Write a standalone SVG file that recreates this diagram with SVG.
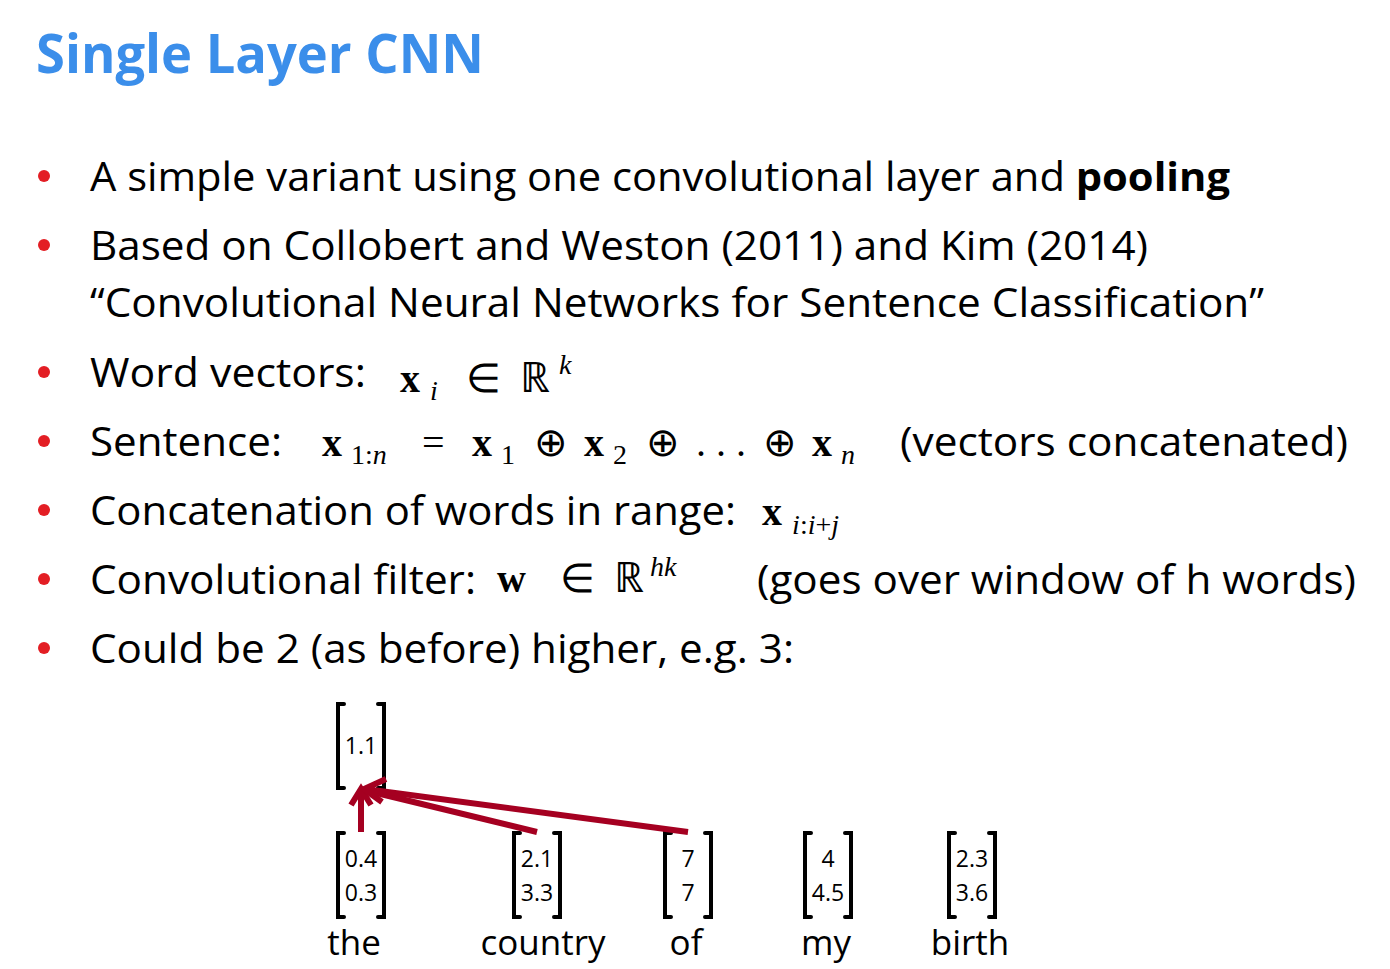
<svg xmlns="http://www.w3.org/2000/svg" width="1390" height="969" viewBox="0 0 1390 969">
<style>
.t{font-family:"Open Sans","Liberation Sans",sans-serif;font-size:40px;fill:#000}
.m{font-family:"Liberation Serif",serif;fill:#000}
.b{font-weight:bold;font-size:40px}
.i{font-style:italic}
.v{font-family:"Open Sans","Liberation Sans",sans-serif;font-size:23px;fill:#000;text-anchor:middle}
.w{font-family:"Open Sans","Liberation Sans",sans-serif;font-size:35px;fill:#000;text-anchor:middle}
.br{fill:none;stroke:#000;stroke-width:4;stroke-linecap:round}
.ar{fill:none;stroke:#a50021;stroke-width:6}
</style>
<text x="36" y="73" font-family="Open Sans,Liberation Sans,sans-serif" font-size="54" font-weight="bold" fill="#3b8eea" textLength="448" lengthAdjust="spacingAndGlyphs">Single Layer CNN</text>
<g fill="#e31e24">
<circle cx="44" cy="176" r="6"/><circle cx="44" cy="245" r="6"/><circle cx="44" cy="372" r="6"/><circle cx="44" cy="441" r="6"/><circle cx="44" cy="510" r="6"/><circle cx="44" cy="579" r="6"/><circle cx="44" cy="648" r="6"/>
</g>
<text class="t" x="90" y="191" textLength="1140" lengthAdjust="spacingAndGlyphs">A simple variant using one convolutional layer and <tspan font-weight="bold">pooling</tspan></text>
<text class="t" x="90" y="260" textLength="1058" lengthAdjust="spacingAndGlyphs">Based on Collobert and Weston (2011) and Kim (2014)</text>
<text class="t" x="90" y="317" textLength="1174" lengthAdjust="spacingAndGlyphs">“Convolutional Neural Networks for Sentence Classification”</text>
<text class="t" x="90" y="387" textLength="276" lengthAdjust="spacingAndGlyphs">Word vectors:</text>
<text class="m b" x="400" y="392">x</text><text class="m i" x="430" y="400" font-size="28">i</text>
<text class="m" x="466" y="392" font-size="40">∈</text><text class="m" x="520" y="392" font-size="42">ℝ</text><text class="m i" x="559" y="374" font-size="28">k</text>
<text class="t" x="90" y="456" textLength="192" lengthAdjust="spacingAndGlyphs">Sentence:</text>
<text class="m b" x="322" y="456">x</text><text class="m" x="351" y="464" font-size="28">1:<tspan class="i">n</tspan></text>
<text class="m" x="422" y="456" font-size="40">=</text>
<text class="m b" x="472" y="456">x</text><text class="m" x="501" y="464" font-size="28">1</text>
<text class="m" x="534" y="456" font-size="40">⊕</text>
<text class="m b" x="584" y="456">x</text><text class="m" x="613" y="464" font-size="28">2</text>
<text class="m" x="646" y="456" font-size="40">⊕</text>
<text class="m" x="696" y="456" font-size="40">. . .</text>
<text class="m" x="763" y="456" font-size="40">⊕</text>
<text class="m b" x="812" y="456">x</text><text class="m i" x="841" y="464" font-size="28">n</text>
<text class="t" x="900" y="456" textLength="448" lengthAdjust="spacingAndGlyphs">(vectors concatenated)</text>
<text class="t" x="90" y="525" textLength="646" lengthAdjust="spacingAndGlyphs">Concatenation of words in range:</text>
<text class="m b" x="762" y="525">x</text><text class="m i" x="792" y="534" font-size="28">i</text><text class="m" x="800" y="534" font-size="28">:<tspan class="i">i</tspan>+<tspan class="i">j</tspan></text>
<text class="t" x="90" y="594" textLength="386" lengthAdjust="spacingAndGlyphs">Convolutional filter:</text>
<text class="m b" x="497" y="592">w</text>
<text class="m" x="560" y="592" font-size="40">∈</text><text class="m" x="614" y="592" font-size="42">ℝ</text><text class="m i" x="650" y="576" font-size="28">hk</text>
<text class="t" x="757" y="594" textLength="599" lengthAdjust="spacingAndGlyphs">(goes over window of h words)</text>
<text class="t" x="90" y="663" textLength="704" lengthAdjust="spacingAndGlyphs">Could be 2 (as before) higher, e.g. 3:</text>
<defs>
<g id="bk"><path class="br" d="M-17,-41 h-6 v84 h6 M17,-41 h6 v84 h-6"/></g>
</defs>
<g id="n-top"><use href="#bk" x="361" y="745"/><text class="v" x="361" y="754">1.1</text></g>
<g id="n-the"><use href="#bk" x="361" y="874"/><text class="v" x="361" y="867">0.4</text><text class="v" x="361" y="901">0.3</text><text class="w" x="354" y="955">the</text></g>
<g id="n-country"><use href="#bk" x="537" y="874"/><text class="v" x="537" y="867">2.1</text><text class="v" x="537" y="901">3.3</text><text class="w" x="543" y="955">country</text></g>
<g id="n-of"><use href="#bk" x="688" y="874"/><text class="v" x="688" y="867">7</text><text class="v" x="688" y="901">7</text><text class="w" x="686" y="955">of</text></g>
<g id="n-my"><use href="#bk" x="828" y="874"/><text class="v" x="828" y="867">4</text><text class="v" x="828" y="901">4.5</text><text class="w" x="826" y="955">my</text></g>
<g id="n-birth"><use href="#bk" x="972" y="874"/><text class="v" x="972" y="867">2.3</text><text class="v" x="972" y="901">3.6</text><text class="w" x="970" y="955">birth</text></g>
<g id="connectors">
<path class="ar" d="M361,832 V790 M351,805 L361,789 L371,805"/>
<path class="ar" d="M537,832 L364,790"/>
<path class="ar" d="M688,832 L365,789 M386,779 L364,789 L382,802"/>
</g>
</svg>
